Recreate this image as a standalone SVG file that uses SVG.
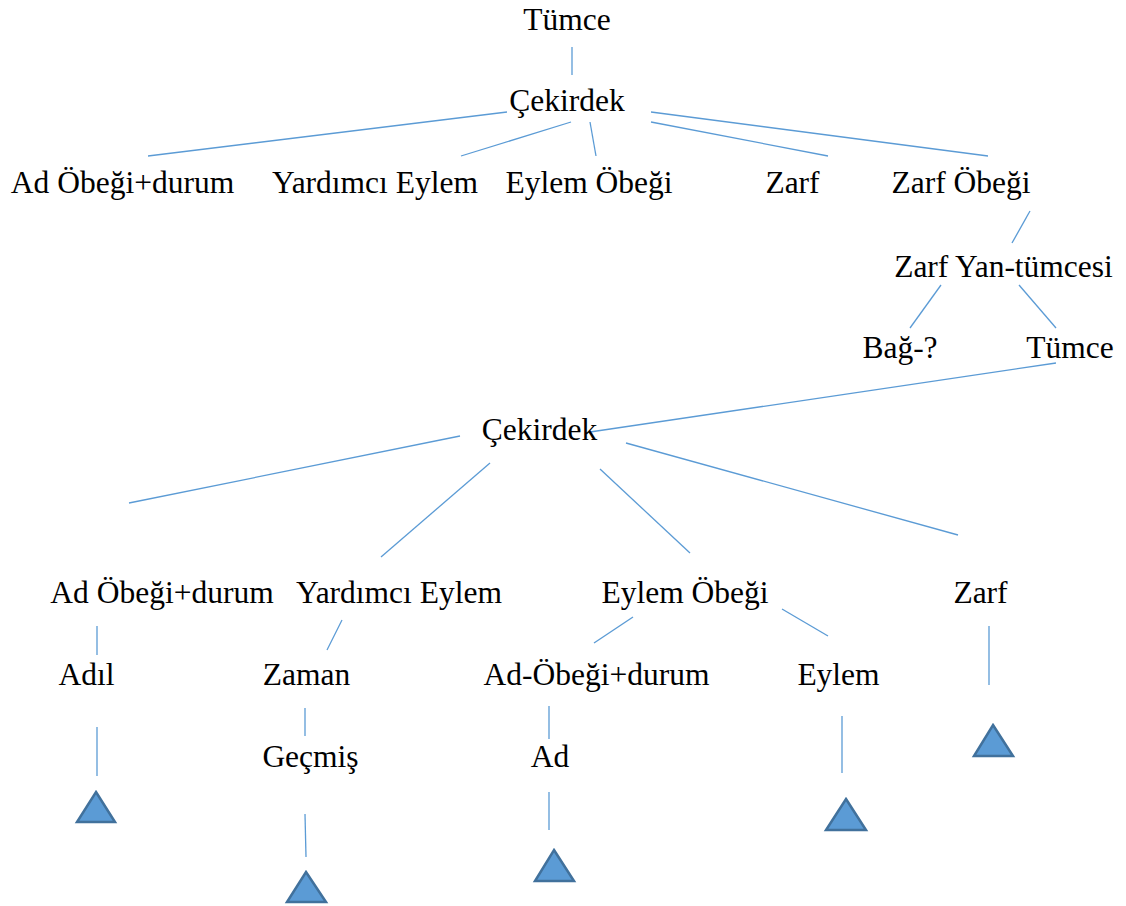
<svg xmlns="http://www.w3.org/2000/svg" width="1126" height="906" viewBox="0 0 1126 906">
<style>
.c line{stroke:#5B9BD5;stroke-width:1.3}
.t{fill:#5B9BD5;stroke:#41719C;stroke-width:2.5}
.f{font-family:"Liberation Serif",Tinos,"Times New Roman",Times,"Nimbus Roman","DejaVu Serif","Noto Serif",serif;font-size:31.5px;fill:#000;text-anchor:middle}
</style>
<rect width="1126" height="906" fill="#fff"/>
<g class="c" id="connectors">
<line x1="572" y1="47" x2="572" y2="75"/>
<line x1="507" y1="112" x2="148" y2="156"/>
<line x1="571" y1="122" x2="461" y2="156"/>
<line x1="590" y1="122" x2="596" y2="156"/>
<line x1="651" y1="122" x2="828" y2="156"/>
<line x1="651" y1="112" x2="988" y2="156"/>
<line x1="1030" y1="211" x2="1012" y2="243"/>
<line x1="941" y1="285" x2="910" y2="328"/>
<line x1="1019" y1="285" x2="1056" y2="328"/>
<line x1="1056" y1="363" x2="590" y2="432"/>
<line x1="460" y1="436" x2="129" y2="503"/>
<line x1="490" y1="463" x2="381" y2="557"/>
<line x1="600" y1="469" x2="690" y2="553"/>
<line x1="626" y1="443" x2="958" y2="535"/>
<line x1="97" y1="626" x2="97" y2="655"/>
<line x1="342" y1="620" x2="327" y2="650"/>
<line x1="633" y1="617" x2="594" y2="643"/>
<line x1="782" y1="609" x2="828" y2="636"/>
<line x1="989" y1="626" x2="989" y2="685"/>
<line x1="97" y1="727" x2="97" y2="776"/>
<line x1="305" y1="708" x2="305" y2="736"/>
<line x1="549" y1="706" x2="549" y2="739"/>
<line x1="842" y1="716" x2="842" y2="773"/>
<line x1="305" y1="814" x2="306" y2="857"/>
<line x1="549" y1="792" x2="549" y2="830"/>
</g>
<g class="f">
<g id="n_tumce1"><text x="567" y="30">Tümce</text></g>
<g id="n_cekirdek1"><text x="567" y="111">Çekirdek</text></g>
<g id="n_adobegi1"><text x="122.5" y="193">Ad Öbeği+durum</text></g>
<g id="n_yardimci1"><text x="375" y="193">Yardımcı Eylem</text></g>
<g id="n_eylemobegi1"><text x="589" y="193">Eylem Öbeği</text></g>
<g id="n_zarf1"><text x="792.5" y="193">Zarf</text></g>
<g id="n_zarfobegi"><text x="961" y="193">Zarf Öbeği</text></g>
<g id="n_zarfyan"><text x="1003.5" y="277">Zarf Yan-tümcesi</text></g>
<g id="n_bag"><text x="900" y="358">Bağ-?</text></g>
<g id="n_tumce2"><text x="1070" y="358">Tümce</text></g>
<g id="n_cekirdek2"><text x="539.5" y="440">Çekirdek</text></g>
<g id="n_adobegi2"><text x="162" y="603">Ad Öbeği+durum</text></g>
<g id="n_yardimci2"><text x="399" y="603">Yardımcı Eylem</text></g>
<g id="n_eylemobegi2"><text x="685" y="603">Eylem Öbeği</text></g>
<g id="n_zarf2"><text x="980.5" y="603">Zarf</text></g>
<g id="n_adil"><text x="86.5" y="685">Adıl</text></g>
<g id="n_zaman"><text x="306.5" y="685">Zaman</text></g>
<g id="n_adobegi3"><text x="596.5" y="685">Ad-Öbeği+durum</text></g>
<g id="n_eylem"><text x="838.5" y="685">Eylem</text></g>
<g id="n_gecmis"><text x="310.5" y="767">Geçmiş</text></g>
<g id="n_ad"><text x="550" y="767">Ad</text></g>
</g>
<g id="tri_adil"><polygon class="t" points="96,792 115,822 77,822"/></g>
<g id="tri_gecmis"><polygon class="t" points="306,872 326,902 287,902"/></g>
<g id="tri_ad"><polygon class="t" points="554,850 574,881 535,881"/></g>
<g id="tri_eylem"><polygon class="t" points="846,799 866,830 826,830"/></g>
<g id="tri_zarf"><polygon class="t" points="993,725 1013,756 974,756"/></g>
</svg>
